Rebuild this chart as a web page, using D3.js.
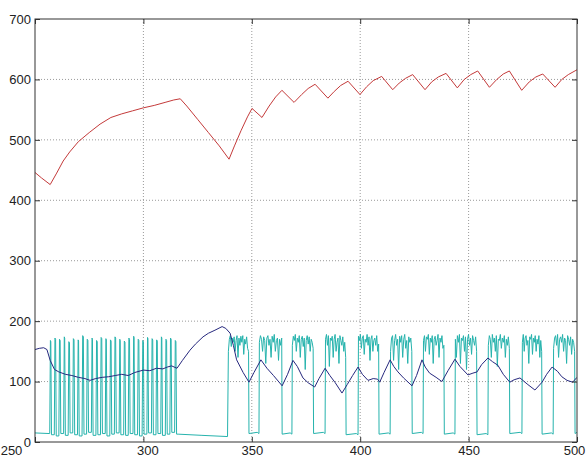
<!DOCTYPE html>
<html>
<head>
<meta charset="utf-8">
<script src="https://cdn.jsdelivr.net/npm/d3@7"></script>
<style>
  body { margin: 0; background: #fff; }
  svg { display: block; font-family: "Liberation Sans", Arial, sans-serif; }
</style>
</head>
<body>
<div id="chart"></div>
<script>
// Axis ticks
const xTicks = [250, 300, 350, 400, 450, 500];
const yTicks = [0, 100, 200, 300, 400, 500, 600, 700];

// Red series [x, y]
const redSeries = [
  [250, 446], [253, 437], [257, 426], [260, 445], [263, 465], [266, 480], [270, 497],
  [275, 512], [280, 526], [285, 537], [290, 543], [295, 548], [300, 553], [305, 557],
  [310, 562], [314, 566], [317, 568], [320, 556], [325, 534], [330, 512], [335, 490],
  [339.5, 468], [342, 490], [345, 515], [348, 538], [350.1, 552], [354.7, 537], [358, 556],
  [361, 571], [363.9, 582], [369.5, 562], [373, 575], [376, 585], [379.2, 592], [385.1, 569],
  [388, 580], [391, 590], [394.4, 597], [399.9, 575], [403, 588], [406, 598], [409.9, 605],
  [415, 583], [418, 594], [421, 602], [424.2, 608], [429.9, 583], [433, 596], [436, 604],
  [439.6, 610], [444.8, 586], [448, 600], [451, 608], [454.2, 614], [459.6, 587], [463, 600],
  [466, 609], [468.8, 614], [474.5, 582], [478, 596], [481, 604], [484.2, 609], [489.9, 587],
  [493, 600], [496, 608], [499.5, 615], [500, 616]
];

// Navy series [x, y]
const navySeries = [
  [250, 153], [252, 155], [254, 156], [255.5, 153], [257, 135], [259, 120], [261, 116],
  [264, 112], [267, 110], [270, 107], [273, 105], [275.4, 102], [278, 105], [281, 107],
  [284, 108], [287, 110], [290, 112], [293, 110], [296, 115], [300, 119], [303, 118],
  [306, 122], [309, 121], [311, 124], [313, 126], [315.5, 122], [318, 135], [321.5, 152],
  [324, 162], [327.5, 174], [330, 180], [333, 185], [336.3, 191], [338, 188], [340, 180],
  [341.5, 160], [343, 136], [346, 115], [348.7, 99], [351, 115], [354.2, 136], [357, 122],
  [360, 110], [364, 93], [366.5, 112], [369, 135], [371, 125], [373.6, 106], [376, 98],
  [379, 91], [381, 105], [383.8, 122], [386, 110], [388.5, 98], [391.6, 81], [394, 95],
  [396.5, 110], [399, 124], [401, 112], [403.6, 102], [406, 105], [408, 104], [409, 99],
  [411, 115], [413.8, 136], [415.5, 125], [417.4, 116], [420, 106], [423.9, 93], [426, 110],
  [428.5, 136], [430, 124], [432, 114], [435, 107], [437.7, 100], [440.5, 118], [443.7, 137],
  [446, 125], [449.7, 111], [452, 114], [453.9, 116], [456, 128], [458.9, 139], [461, 133],
  [463.5, 127], [466, 112], [469, 99], [471, 103], [473.7, 106], [477, 96], [480.6, 86],
  [483.9, 99], [486, 112], [488.5, 124], [491, 117], [493, 108], [495.4, 102], [498, 99],
  [500, 107]
];

// Cyan series, first part: low run, then the burst of pulses [start, end, top]
const cyanStart = [[250, 15], [256.5, 14]];
const burstPulses = [
  [256.8, 257.6, 168], [258.9, 259.8, 172], [261.0, 261.9, 170], [263.2, 264.0, 174],
  [265.3, 266.2, 166], [267.4, 268.3, 171], [269.6, 270.4, 169], [271.7, 272.6, 176],
  [273.8, 274.7, 170], [276.0, 276.8, 172], [278.1, 279.0, 168], [280.2, 281.1, 173],
  [282.4, 283.2, 171], [284.5, 285.4, 169], [286.6, 287.5, 174], [288.8, 289.6, 170],
  [290.9, 291.8, 167], [293.0, 293.9, 172], [295.2, 296.0, 175], [297.3, 298.2, 170],
  [299.4, 300.3, 168], [301.6, 302.4, 173], [303.7, 304.6, 171], [305.8, 306.7, 169],
  [308.0, 308.8, 174], [310.1, 311.0, 170], [312.2, 313.1, 172], [314.4, 315.3, 168]
];
const burstLows = [12, 10, 14, 11, 15, 12, 10, 13, 16, 11, 12, 14, 10, 13, 15, 12,
                   11, 14, 12, 10, 13, 15, 12, 14, 11, 13, 16, 13];
// Long low stretch after the burst
const cyanGap = [[316, 13], [327, 11], [338.8, 9]];

// Noisy high blocks [start, end] with their samples, and low level after each block
const blockEdges = [
  [339.0, 348.7], [353.3, 364.0], [368.5, 378.5], [383.8, 393.5], [399.0, 408.7],
  [413.8, 424.0], [429.0, 438.8], [443.7, 453.9], [458.9, 469.0], [474.6, 483.9],
  [489.0, 499.1]
];
const blockSamples = [
  [150, 170, 176, 158, 172, 165, 174, 150, 168, 176, 140, 172, 160, 175, 165, 176, 145, 170, 162, 174, 155, 150],
  [165, 176, 170, 150, 174, 168, 130, 172, 176, 160, 170, 140, 175, 165, 178, 150, 168, 172, 135, 170, 160, 172],
  [160, 175, 168, 178, 150, 172, 165, 176, 140, 170, 175, 158, 172, 120, 168, 176, 162, 174, 150, 170, 165, 155],
  [170, 178, 160, 176, 125, 172, 168, 175, 140, 170, 178, 150, 165, 172, 130, 176, 168, 160, 174, 150, 165, 140],
  [175, 168, 178, 155, 172, 176, 145, 170, 165, 178, 160, 174, 135, 170, 176, 150, 168, 172, 160, 176, 150, 162],
  [150, 172, 176, 135, 168, 178, 160, 170, 120, 175, 165, 176, 140, 170, 178, 155, 168, 130, 174, 165, 172, 150],
  [168, 176, 150, 174, 170, 178, 145, 172, 165, 176, 130, 170, 175, 160, 168, 178, 140, 172, 165, 176, 155, 160],
  [170, 140, 176, 165, 178, 130, 172, 168, 176, 150, 174, 120, 170, 178, 160, 172, 145, 176, 168, 160, 174, 150],
  [160, 176, 170, 140, 178, 165, 172, 150, 176, 125, 170, 168, 178, 155, 172, 165, 176, 140, 170, 160, 174, 155],
  [165, 178, 150, 172, 176, 160, 168, 130, 174, 170, 178, 145, 172, 165, 176, 150, 170, 162, 176, 140, 168, 150],
  [155, 172, 176, 160, 178, 140, 170, 174, 165, 178, 150, 172, 168, 130, 176, 170, 160, 174, 145, 170, 165, 150]
];
const lowLevels = [14, 13, 14, 12, 13, 14, 13, 12, 14, 13, 14];

// Build the cyan point list from the tables above
const cyanSeries = cyanStart.slice();
burstPulses.forEach(([a, b, top], i) => {
  const prevLow = i === 0 ? 14 : burstLows[i - 1];
  cyanSeries.push([a, prevLow], [a + 0.3, top], [b - 0.3, top - 2], [b, burstLows[i]]);
});
cyanGap.forEach(p => cyanSeries.push(p));
blockEdges.forEach(([a, b], i) => {
  const s = blockSamples[i];
  s.forEach((v, k) => cyanSeries.push([a + 0.2 + k * (b - a - 0.4) / (s.length - 1), v]));
  const low = lowLevels[i];
  const next = blockEdges[i + 1];
  cyanSeries.push([b, low]);
  cyanSeries.push([next ? next[0] - 0.8 : 500, low + 2]);
  if (next) cyanSeries.push([next[0], low]);
});

// Layout
const width = 587, height = 460;
const margin = { top: 19, right: 10, bottom: 18, left: 35 };
const innerW = width - margin.left - margin.right;
const innerH = height - margin.top - margin.bottom;

const svg = d3.select('#chart').append('svg')
  .attr('width', width)
  .attr('height', height);

const g = svg.append('g')
  .attr('transform', `translate(${margin.left},${margin.top})`);

const x = d3.scaleLinear().domain([250, 500]).range([0, innerW]);
const y = d3.scaleLinear().domain([0, 700]).range([innerH, 0]);

// Grid (dotted)
g.selectAll('.vgrid')
  .data(xTicks.slice(1, -1))
  .enter().append('line')
  .attr('x1', d => x(d)).attr('x2', d => x(d))
  .attr('y1', 0).attr('y2', innerH)
  .attr('stroke', '#9a9a9a')
  .attr('stroke-width', 1)
  .attr('stroke-dasharray', '1,2');

g.selectAll('.hgrid')
  .data(yTicks.slice(1, -1))
  .enter().append('line')
  .attr('x1', 0).attr('x2', innerW)
  .attr('y1', d => y(d)).attr('y2', d => y(d))
  .attr('stroke', '#9a9a9a')
  .attr('stroke-width', 1)
  .attr('stroke-dasharray', '1,2');

g.append('clipPath').attr('id', 'plot-clip')
  .append('rect').attr('width', innerW).attr('height', innerH);

const line = d3.line()
  .x(d => x(d[0]))
  .y(d => y(d[1]));

const plot = g.append('g').attr('clip-path', 'url(#plot-clip)');

plot.append('path')
  .datum(redSeries)
  .attr('fill', 'none')
  .attr('stroke', '#c43a3a')
  .attr('stroke-width', 1)
  .attr('d', line);

plot.append('path')
  .datum(cyanSeries)
  .attr('fill', 'none')
  .attr('stroke', '#26b3ad')
  .attr('stroke-width', 1)
  .attr('d', line);

plot.append('path')
  .datum(navySeries)
  .attr('fill', 'none')
  .attr('stroke', '#26287e')
  .attr('stroke-width', 1)
  .attr('d', line);

// Axes with inward ticks on all four sides
const styleAxis = sel => {
  sel.selectAll('line').attr('stroke', '#333');
  sel.select('.domain').remove();
  sel.selectAll('text').attr('fill', '#222').attr('font-size', '13px');
};

const xAxis = g.append('g')
  .attr('transform', `translate(0,${innerH})`)
  .call(d3.axisBottom(x).tickValues(xTicks).tickSize(-5).tickPadding(4))
  .call(styleAxis);
xAxis.selectAll('text')
  .attr('dx', d => d === 250 ? -24 : d === 500 ? -3 : d === 300 ? 4 : 0);

g.append('g')
  .call(d3.axisLeft(y).tickValues(yTicks).tickSize(-5).tickPadding(4))
  .call(styleAxis);

g.append('g')
  .call(d3.axisTop(x).tickValues(xTicks).tickSize(-5).tickFormat(''))
  .call(styleAxis);

g.append('g')
  .attr('transform', `translate(${innerW},0)`)
  .call(d3.axisRight(y).tickValues(yTicks).tickSize(-5).tickFormat(''))
  .call(styleAxis);

// Frame
g.append('rect')
  .attr('width', innerW)
  .attr('height', innerH)
  .attr('fill', 'none')
  .attr('stroke', '#333')
  .attr('stroke-width', 1);
</script>
</body>
</html>
